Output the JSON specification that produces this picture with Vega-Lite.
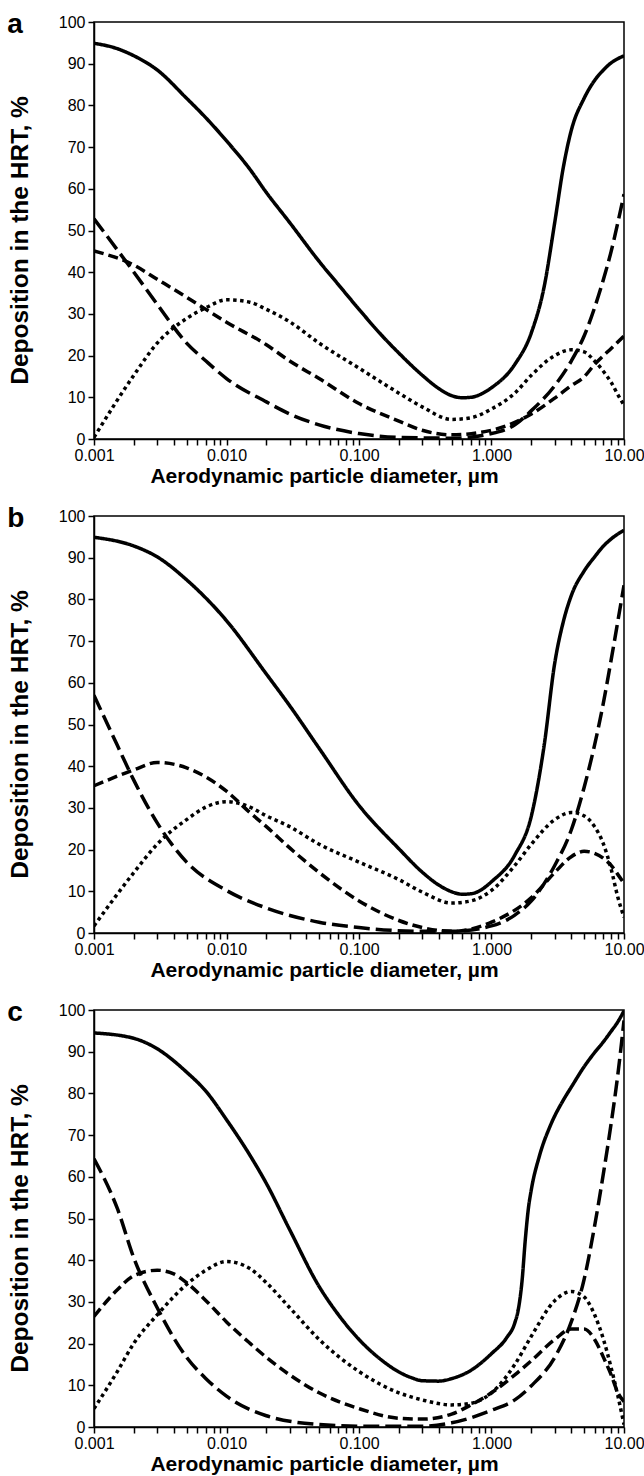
{
  "$schema": "https://vega.github.io/schema/vega-lite/v6.json",
  "padding": {"left": 6, "top": 10, "right": 0, "bottom": 0},
  "background": "white",
  "spacing": 77,
  "bounds": "flush",
  "config": {
    "font": "Liberation Sans",
    "view": {"stroke": "black", "strokeWidth": 1.5},
    "axis": {
      "domainColor": "black", "domainWidth": 1.5,
      "tickColor": "black", "tickWidth": 1.5, "tickSize": 6,
      "labelColor": "black", "labelFont": "Liberation Sans", "labelFontSize": 16,
      "titleFont": "Liberation Sans", "titleFontWeight": "bold", "titleColor": "black",
      "grid": false
    },
    "axisX": {"titleX": 230, "titlePadding": 2, "labelPadding": 2, "titleFontSize": 21},
    "axisY": {"titlePadding": 26, "labelPadding": 3, "titleY": 218, "titleFontSize": 24.5},
    "title": {"font": "Liberation Sans", "fontSize": 28, "fontWeight": "bold", "color": "black", "anchor": "start", "frame": "bounds"}
  },
  "datasets": {
    "a": [
      {"d":0.001,"s":"total","v":94.9},{"d":0.0015,"s":"total","v":93.6},{"d":0.002,"s":"total","v":91.9},{"d":0.003,"s":"total","v":88.5},{"d":0.005,"s":"total","v":81.7},{"d":0.007,"s":"total","v":77},{"d":0.01,"s":"total","v":71.5},{"d":0.015,"s":"total","v":64.7},{"d":0.02,"s":"total","v":59.1},{"d":0.03,"s":"total","v":51.9},{"d":0.05,"s":"total","v":42.6},{"d":0.07,"s":"total","v":37},{"d":0.1,"s":"total","v":31.1},{"d":0.15,"s":"total","v":24.7},{"d":0.2,"s":"total","v":20.6},{"d":0.3,"s":"total","v":15.3},{"d":0.4,"s":"total","v":12.1},{"d":0.5,"s":"total","v":10.4},{"d":0.6,"s":"total","v":9.9},{"d":0.7,"s":"total","v":10},{"d":0.85,"s":"total","v":10.9},{"d":1,"s":"total","v":12.3},{"d":1.5,"s":"total","v":17.9},{"d":2,"s":"total","v":25.5},{"d":2.5,"s":"total","v":36.6},{"d":3,"s":"total","v":51.9},{"d":3.5,"s":"total","v":65.5},{"d":4,"s":"total","v":74},{"d":5,"s":"total","v":81.7},{"d":6,"s":"total","v":86},{"d":7,"s":"total","v":88.5},{"d":8,"s":"total","v":90.2},{"d":9,"s":"total","v":91.2},{"d":10,"s":"total","v":91.9},
      {"d":0.001,"s":"long","v":52.8},{"d":0.002,"s":"long","v":40},{"d":0.003,"s":"long","v":32.3},{"d":0.005,"s":"long","v":23},{"d":0.007,"s":"long","v":18.7},{"d":0.01,"s":"long","v":14.5},{"d":0.02,"s":"long","v":8.9},{"d":0.03,"s":"long","v":6},{"d":0.05,"s":"long","v":3.4},{"d":0.1,"s":"long","v":1.3},{"d":0.2,"s":"long","v":0.4},{"d":0.5,"s":"long","v":0.2},{"d":1,"s":"long","v":1.3},{"d":1.5,"s":"long","v":3.4},{"d":2,"s":"long","v":6.8},{"d":3,"s":"long","v":12.8},{"d":4,"s":"long","v":18.7},{"d":5,"s":"long","v":24.7},{"d":6,"s":"long","v":31.5},{"d":7,"s":"long","v":38.3},{"d":8,"s":"long","v":45},{"d":9,"s":"long","v":52},{"d":10,"s":"long","v":58.7},
      {"d":0.001,"s":"medium","v":45.1},{"d":0.002,"s":"medium","v":41.7},{"d":0.003,"s":"medium","v":38.3},{"d":0.005,"s":"medium","v":34},{"d":0.01,"s":"medium","v":28},{"d":0.02,"s":"medium","v":22.6},{"d":0.03,"s":"medium","v":18.7},{"d":0.05,"s":"medium","v":14.5},{"d":0.1,"s":"medium","v":8.5},{"d":0.2,"s":"medium","v":4.3},{"d":0.3,"s":"medium","v":2.1},{"d":0.5,"s":"medium","v":1},{"d":1,"s":"medium","v":2.1},{"d":2,"s":"medium","v":6},{"d":3,"s":"medium","v":9.8},{"d":4,"s":"medium","v":12.8},{"d":5,"s":"medium","v":14.9},{"d":6,"s":"medium","v":17.9},{"d":7,"s":"medium","v":20},{"d":8,"s":"medium","v":21.7},{"d":10,"s":"medium","v":24.7},
      {"d":0.001,"s":"dotted","v":0.4},{"d":0.002,"s":"dotted","v":15.3},{"d":0.003,"s":"dotted","v":23},{"d":0.005,"s":"dotted","v":28.9},{"d":0.007,"s":"dotted","v":31.5},{"d":0.01,"s":"dotted","v":33.4},{"d":0.015,"s":"dotted","v":32.8},{"d":0.02,"s":"dotted","v":31.1},{"d":0.03,"s":"dotted","v":28.1},{"d":0.05,"s":"dotted","v":23},{"d":0.1,"s":"dotted","v":17},{"d":0.2,"s":"dotted","v":11},{"d":0.3,"s":"dotted","v":7.7},{"d":0.5,"s":"dotted","v":4.7},{"d":0.7,"s":"dotted","v":5.1},{"d":1,"s":"dotted","v":7.2},{"d":1.5,"s":"dotted","v":11},{"d":2,"s":"dotted","v":15.3},{"d":3,"s":"dotted","v":20},{"d":4,"s":"dotted","v":21.4},{"d":5,"s":"dotted","v":20.9},{"d":6,"s":"dotted","v":18.7},{"d":7,"s":"dotted","v":16.2},{"d":8,"s":"dotted","v":13.6},{"d":9,"s":"dotted","v":10.6},{"d":10,"s":"dotted","v":8.1}
    ],
    "b": [
      {"d":0.001,"s":"total","v":94.9},{"d":0.002,"s":"total","v":92.8},{"d":0.003,"s":"total","v":90.2},{"d":0.005,"s":"total","v":84.7},{"d":0.01,"s":"total","v":74.9},{"d":0.02,"s":"total","v":62.1},{"d":0.03,"s":"total","v":54.5},{"d":0.05,"s":"total","v":44.3},{"d":0.1,"s":"total","v":30.6},{"d":0.2,"s":"total","v":20.2},{"d":0.3,"s":"total","v":14.6},{"d":0.4,"s":"total","v":11.5},{"d":0.5,"s":"total","v":9.9},{"d":0.6,"s":"total","v":9.3},{"d":0.7,"s":"total","v":9.4},{"d":0.85,"s":"total","v":10.5},{"d":1,"s":"total","v":12.3},{"d":1.5,"s":"total","v":18.7},{"d":2,"s":"total","v":28.1},{"d":2.5,"s":"total","v":45.1},{"d":3,"s":"total","v":64.7},{"d":3.5,"s":"total","v":74.9},{"d":4,"s":"total","v":80.9},{"d":5,"s":"total","v":86.8},{"d":6,"s":"total","v":90.2},{"d":7,"s":"total","v":92.8},{"d":8,"s":"total","v":94.5},{"d":10,"s":"total","v":96.6},
      {"d":0.001,"s":"long","v":57},{"d":0.0015,"s":"long","v":45},{"d":0.002,"s":"long","v":36.6},{"d":0.003,"s":"long","v":26.4},{"d":0.005,"s":"long","v":17},{"d":0.01,"s":"long","v":10.2},{"d":0.02,"s":"long","v":6},{"d":0.05,"s":"long","v":2.6},{"d":0.1,"s":"long","v":1.3},{"d":0.3,"s":"long","v":0.4},{"d":0.5,"s":"long","v":0.4},{"d":1,"s":"long","v":1.7},{"d":1.5,"s":"long","v":4.3},{"d":2,"s":"long","v":7.7},{"d":3,"s":"long","v":16.2},{"d":4,"s":"long","v":24.7},{"d":5,"s":"long","v":34.9},{"d":6,"s":"long","v":45.1},{"d":7,"s":"long","v":55.3},{"d":8,"s":"long","v":65.5},{"d":9,"s":"long","v":74.9},{"d":10,"s":"long","v":83.4},
      {"d":0.001,"s":"medium","v":35.3},{"d":0.002,"s":"medium","v":39.1},{"d":0.003,"s":"medium","v":40.9},{"d":0.005,"s":"medium","v":39.6},{"d":0.007,"s":"medium","v":37.4},{"d":0.01,"s":"medium","v":34},{"d":0.015,"s":"medium","v":28.9},{"d":0.02,"s":"medium","v":25.5},{"d":0.03,"s":"medium","v":20.4},{"d":0.05,"s":"medium","v":14.5},{"d":0.1,"s":"medium","v":7.7},{"d":0.2,"s":"medium","v":3},{"d":0.3,"s":"medium","v":1.3},{"d":0.5,"s":"medium","v":0.4},{"d":1,"s":"medium","v":2.6},{"d":2,"s":"medium","v":8.5},{"d":3,"s":"medium","v":14.5},{"d":4,"s":"medium","v":18.3},{"d":5,"s":"medium","v":19.6},{"d":6,"s":"medium","v":19.1},{"d":7,"s":"medium","v":17.9},{"d":8,"s":"medium","v":16.2},{"d":9,"s":"medium","v":14},{"d":10,"s":"medium","v":11.9},
      {"d":0.001,"s":"dotted","v":1.7},{"d":0.002,"s":"dotted","v":14.5},{"d":0.003,"s":"dotted","v":21.3},{"d":0.005,"s":"dotted","v":27.2},{"d":0.007,"s":"dotted","v":30.2},{"d":0.01,"s":"dotted","v":31.5},{"d":0.015,"s":"dotted","v":30.2},{"d":0.02,"s":"dotted","v":28.1},{"d":0.03,"s":"dotted","v":25.5},{"d":0.05,"s":"dotted","v":21.3},{"d":0.1,"s":"dotted","v":17},{"d":0.2,"s":"dotted","v":12.8},{"d":0.3,"s":"dotted","v":9.8},{"d":0.5,"s":"dotted","v":7.2},{"d":0.7,"s":"dotted","v":7.7},{"d":1,"s":"dotted","v":10.2},{"d":1.5,"s":"dotted","v":16.2},{"d":2,"s":"dotted","v":21.3},{"d":3,"s":"dotted","v":27.2},{"d":4,"s":"dotted","v":28.9},{"d":5,"s":"dotted","v":28.1},{"d":6,"s":"dotted","v":25.5},{"d":7,"s":"dotted","v":21.3},{"d":8,"s":"dotted","v":15.3},{"d":9,"s":"dotted","v":8.5},{"d":10,"s":"dotted","v":3.8}
    ],
    "c": [
      {"d":0.001,"s":"total","v":94.5},{"d":0.002,"s":"total","v":93.2},{"d":0.003,"s":"total","v":90.7},{"d":0.005,"s":"total","v":85.1},{"d":0.007,"s":"total","v":80.5},{"d":0.01,"s":"total","v":73.7},{"d":0.015,"s":"total","v":65.2},{"d":0.02,"s":"total","v":58.4},{"d":0.03,"s":"total","v":47.3},{"d":0.05,"s":"total","v":33.7},{"d":0.07,"s":"total","v":26.9},{"d":0.1,"s":"total","v":21},{"d":0.15,"s":"total","v":15.9},{"d":0.2,"s":"total","v":13.2},{"d":0.25,"s":"total","v":11.8},{"d":0.3,"s":"total","v":11.1},{"d":0.4,"s":"total","v":11},{"d":0.5,"s":"total","v":11.6},{"d":0.7,"s":"total","v":13.6},{"d":1,"s":"total","v":17.6},{"d":1.3,"s":"total","v":21.4},{"d":1.5,"s":"total","v":25},{"d":1.6,"s":"total","v":28.5},{"d":1.7,"s":"total","v":35},{"d":1.8,"s":"total","v":45},{"d":1.9,"s":"total","v":52.5},{"d":2,"s":"total","v":57},{"d":2.3,"s":"total","v":65},{"d":2.8,"s":"total","v":72.5},{"d":3.5,"s":"total","v":78.5},{"d":4,"s":"total","v":81.5},{"d":5,"s":"total","v":86.4},{"d":6,"s":"total","v":89.8},{"d":7,"s":"total","v":92.4},{"d":8,"s":"total","v":94.9},{"d":9,"s":"total","v":97.2},{"d":10,"s":"total","v":99.8},
      {"d":0.001,"s":"long","v":64.3},{"d":0.0015,"s":"long","v":52.4},{"d":0.002,"s":"long","v":40.5},{"d":0.003,"s":"long","v":28.6},{"d":0.005,"s":"long","v":16.7},{"d":0.007,"s":"long","v":11.6},{"d":0.01,"s":"long","v":7.4},{"d":0.02,"s":"long","v":2.7},{"d":0.05,"s":"long","v":0.6},{"d":0.1,"s":"long","v":0.2},{"d":0.3,"s":"long","v":0.2},{"d":0.5,"s":"long","v":1},{"d":1,"s":"long","v":4},{"d":1.5,"s":"long","v":6.5},{"d":2,"s":"long","v":9.9},{"d":3,"s":"long","v":16.7},{"d":4,"s":"long","v":25.2},{"d":5,"s":"long","v":35.4},{"d":6,"s":"long","v":48.2},{"d":7,"s":"long","v":60.9},{"d":8,"s":"long","v":72.8},{"d":9,"s":"long","v":84.7},{"d":10,"s":"long","v":97.5},
      {"d":0.001,"s":"medium","v":26.5},{"d":0.0015,"s":"medium","v":32.9},{"d":0.002,"s":"medium","v":36.3},{"d":0.003,"s":"medium","v":37.6},{"d":0.004,"s":"medium","v":36.7},{"d":0.005,"s":"medium","v":34.6},{"d":0.007,"s":"medium","v":30.3},{"d":0.01,"s":"medium","v":25.2},{"d":0.015,"s":"medium","v":20.1},{"d":0.02,"s":"medium","v":16.7},{"d":0.03,"s":"medium","v":12.5},{"d":0.05,"s":"medium","v":8.2},{"d":0.1,"s":"medium","v":4.4},{"d":0.2,"s":"medium","v":2.1},{"d":0.3,"s":"medium","v":1.9},{"d":0.5,"s":"medium","v":3.1},{"d":0.7,"s":"medium","v":5.3},{"d":1,"s":"medium","v":8.2},{"d":1.5,"s":"medium","v":12.5},{"d":2,"s":"medium","v":15.9},{"d":3,"s":"medium","v":21},{"d":4,"s":"medium","v":23.5},{"d":5,"s":"medium","v":23.5},{"d":6,"s":"medium","v":21},{"d":7,"s":"medium","v":16.7},{"d":8,"s":"medium","v":12.5},{"d":9,"s":"medium","v":8.2},{"d":10,"s":"medium","v":6.1},
      {"d":0.001,"s":"dotted","v":4.4},{"d":0.0015,"s":"dotted","v":13.3},{"d":0.002,"s":"dotted","v":20.1},{"d":0.003,"s":"dotted","v":26.9},{"d":0.005,"s":"dotted","v":34.2},{"d":0.007,"s":"dotted","v":37.6},{"d":0.01,"s":"dotted","v":39.7},{"d":0.015,"s":"dotted","v":38},{"d":0.02,"s":"dotted","v":34.6},{"d":0.03,"s":"dotted","v":28.6},{"d":0.05,"s":"dotted","v":21},{"d":0.1,"s":"dotted","v":13.3},{"d":0.2,"s":"dotted","v":8.2},{"d":0.3,"s":"dotted","v":6.5},{"d":0.5,"s":"dotted","v":5.3},{"d":0.7,"s":"dotted","v":5.7},{"d":1,"s":"dotted","v":8.2},{"d":1.5,"s":"dotted","v":15},{"d":2,"s":"dotted","v":21.8},{"d":3,"s":"dotted","v":30.3},{"d":4,"s":"dotted","v":32.5},{"d":5,"s":"dotted","v":31.2},{"d":6,"s":"dotted","v":26.9},{"d":7,"s":"dotted","v":21},{"d":8,"s":"dotted","v":14.2},{"d":9,"s":"dotted","v":7.4},{"d":10,"s":"dotted","v":0.6}
    ]
  },
  "vconcat": [
    {
      "title": {"text": "a", "dy": 29},
      "width": 530, "height": 417,
      "data": {"name": "a"},
      "mark": {"type": "line", "color": "black", "strokeWidth": 3.5, "interpolate": "monotone", "clip": true},
      "encoding": {
        "x": {"field": "d", "type": "quantitative", "scale": {"type": "log", "domain": [0.001, 10], "nice": false},
          "axis": {"title": "Aerodynamic particle diameter, µm", "values": [0.001,0.002,0.003,0.004,0.005,0.006,0.007,0.008,0.009,0.01,0.02,0.03,0.04,0.05,0.06,0.07,0.08,0.09,0.1,0.2,0.3,0.4,0.5,0.6,0.7,0.8,0.9,1,2,3,4,5,6,7,8,9,10],
            "labelExpr": "datum.value===0.001?'0.001':datum.value===0.01?'0.010':datum.value===0.1?'0.100':datum.value===1?'1.000':datum.value===10?'10.00':''",
            "labelOverlap": false, "labelFlush": false, "labelBound": false}},
        "y": {"field": "v", "type": "quantitative", "scale": {"domain": [0, 100], "nice": false},
          "axis": {"title": "Deposition in the HRT, %", "values": [0,10,20,30,40,50,60,70,80,90,100]}},
        "strokeDash": {"field": "s", "type": "nominal", "scale": {"domain": ["total","long","medium","dotted"], "range": [[1,0],[16,6],[10,5],[3.5,3.5]]}, "legend": null},
        "order": {"field": "d", "type": "quantitative"}
      }
    },
    {
      "title": {"text": "b", "dy": 29},
      "width": 530, "height": 417,
      "data": {"name": "b"},
      "mark": {"type": "line", "color": "black", "strokeWidth": 3.5, "interpolate": "monotone", "clip": true},
      "encoding": {
        "x": {"field": "d", "type": "quantitative", "scale": {"type": "log", "domain": [0.001, 10], "nice": false},
          "axis": {"title": "Aerodynamic particle diameter, µm", "values": [0.001,0.002,0.003,0.004,0.005,0.006,0.007,0.008,0.009,0.01,0.02,0.03,0.04,0.05,0.06,0.07,0.08,0.09,0.1,0.2,0.3,0.4,0.5,0.6,0.7,0.8,0.9,1,2,3,4,5,6,7,8,9,10],
            "labelExpr": "datum.value===0.001?'0.001':datum.value===0.01?'0.010':datum.value===0.1?'0.100':datum.value===1?'1.000':datum.value===10?'10.00':''",
            "labelOverlap": false, "labelFlush": false, "labelBound": false}},
        "y": {"field": "v", "type": "quantitative", "scale": {"domain": [0, 100], "nice": false},
          "axis": {"title": "Deposition in the HRT, %", "values": [0,10,20,30,40,50,60,70,80,90,100]}},
        "strokeDash": {"field": "s", "type": "nominal", "scale": {"domain": ["total","long","medium","dotted"], "range": [[1,0],[16,6],[10,5],[3.5,3.5]]}, "legend": null},
        "order": {"field": "d", "type": "quantitative"}
      }
    },
    {
      "title": {"text": "c", "dy": 29},
      "width": 530, "height": 417,
      "data": {"name": "c"},
      "mark": {"type": "line", "color": "black", "strokeWidth": 3.5, "interpolate": "monotone", "clip": true},
      "encoding": {
        "x": {"field": "d", "type": "quantitative", "scale": {"type": "log", "domain": [0.001, 10], "nice": false},
          "axis": {"title": "Aerodynamic particle diameter, µm", "values": [0.001,0.002,0.003,0.004,0.005,0.006,0.007,0.008,0.009,0.01,0.02,0.03,0.04,0.05,0.06,0.07,0.08,0.09,0.1,0.2,0.3,0.4,0.5,0.6,0.7,0.8,0.9,1,2,3,4,5,6,7,8,9,10],
            "labelExpr": "datum.value===0.001?'0.001':datum.value===0.01?'0.010':datum.value===0.1?'0.100':datum.value===1?'1.000':datum.value===10?'10.00':''",
            "labelOverlap": false, "labelFlush": false, "labelBound": false}},
        "y": {"field": "v", "type": "quantitative", "scale": {"domain": [0, 100], "nice": false},
          "axis": {"title": "Deposition in the HRT, %", "values": [0,10,20,30,40,50,60,70,80,90,100]}},
        "strokeDash": {"field": "s", "type": "nominal", "scale": {"domain": ["total","long","medium","dotted"], "range": [[1,0],[16,6],[10,5],[3.5,3.5]]}, "legend": null},
        "order": {"field": "d", "type": "quantitative"}
      }
    }
  ]
}
